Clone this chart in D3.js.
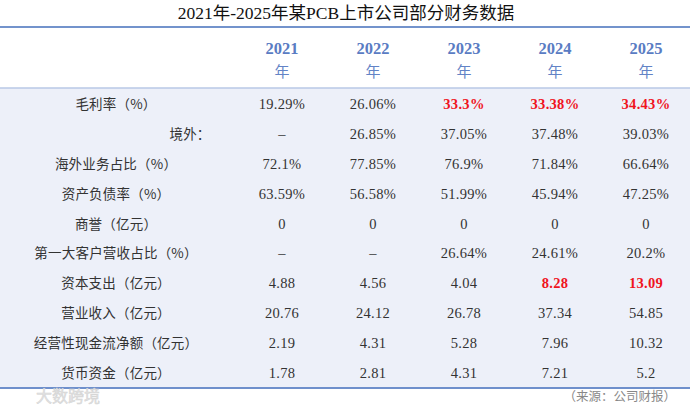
<!DOCTYPE html>
<html><head><meta charset="utf-8">
<script src="https://cdn.jsdelivr.net/npm/d3@7/dist/d3.min.js"></script>
<style>html,body{margin:0;padding:0;background:#fff;}</style>
</head><body>
<svg id="c" width="692" height="407"></svg>
<script>
const title = "2021年-2025年某PCB上市公司部分财务数据";
const years = ["2021", "2022", "2023", "2024", "2025"];
const rowLabels = ["毛利率（%）", "境外：", "海外业务占比（%）", "资产负债率（%）", "商誉（亿元）",
  "第一大客户营收占比（%）", "资本支出（亿元）", "营业收入（亿元）", "经营性现金流净额（亿元）", "货币资金（亿元）"];
const cells = [
  ["19.29%", "26.06%", "33.3%", "33.38%", "34.43%"],
  ["–", "26.85%", "37.05%", "37.48%", "39.03%"],
  ["72.1%", "77.85%", "76.9%", "71.84%", "66.64%"],
  ["63.59%", "56.58%", "51.99%", "45.94%", "47.25%"],
  ["0", "0", "0", "0", "0"],
  ["–", "–", "26.64%", "24.61%", "20.2%"],
  ["4.88", "4.56", "4.04", "8.28", "13.09"],
  ["20.76", "24.12", "26.78", "37.34", "54.85"],
  ["2.19", "4.31", "5.28", "7.96", "10.32"],
  ["1.78", "2.81", "4.31", "7.21", "5.2"]
];
const highlighted = [[0,2],[0,3],[0,4],[6,3],[6,4]];
const source = "（来源：公司财报）";

const svg = d3.select("#c");
const serif = "'Liberation Serif','Noto Sans CJK SC',serif";
const cjk = "'Noto Sans CJK SC','Liberation Serif',sans-serif";

const x = d3.scalePoint().domain(years).range([282, 646]);
const y = d3.scaleBand().domain(d3.range(rowLabels.length)).range([89, 388]);

// title
svg.append("text").attr("x", 346).attr("y", 19).attr("text-anchor", "middle")
  .attr("font-family", serif).attr("font-size", 17.5).attr("fill", "#111").text(title);

// body background
svg.append("rect").attr("x", 0).attr("y", 88).attr("width", 690).attr("height", 300).attr("fill", "#edf0f9");

// lines
svg.append("line").attr("x1", 0).attr("x2", 690).attr("y1", 27).attr("y2", 27).attr("stroke", "#7393cc").attr("stroke-width", 2);
svg.append("line").attr("x1", 0).attr("x2", 690).attr("y1", 88).attr("y2", 88).attr("stroke", "#b9c8e6").attr("stroke-width", 1.5);
svg.append("line").attr("x1", 0).attr("x2", 690).attr("y1", 388).attr("y2", 388).attr("stroke", "#6f90cc").attr("stroke-width", 2);

// header years
const hdr = svg.append("g");
years.forEach(yr => {
  hdr.append("text").attr("x", x(yr)).attr("y", 54).attr("text-anchor", "middle")
    .attr("font-family", serif).attr("font-weight", "bold").attr("font-size", 16.5)
    .attr("fill", "#5a7cc3").text(yr);
  hdr.append("text").attr("x", x(yr)).attr("y", 77).attr("text-anchor", "middle")
    .attr("font-family", cjk).attr("font-size", 15)
    .attr("fill", "#6383c6").text("年");
});

// row labels
svg.append("g").selectAll("text").data(rowLabels).join("text")
  .attr("x", (d, i) => i === 1 ? 190 : 116)
  .attr("y", (d, i) => y(i) + y.bandwidth() / 2 + 5)
  .attr("text-anchor", "middle")
  .attr("font-family", cjk).attr("font-size", 13.5).attr("fill", "#333")
  .attr("letter-spacing", 0.2)
  .text(d => d);

// values
const isHi = (r, c) => highlighted.some(h => h[0] === r && h[1] === c);
const vals = [];
cells.forEach((row, r) => row.forEach((v, c) => vals.push({r, c, v})));
svg.append("g").selectAll("text").data(vals).join("text")
  .attr("x", d => x(years[d.c]))
  .attr("y", d => y(d.r) + y.bandwidth() / 2 + 5)
  .attr("text-anchor", "middle")
  .attr("font-family", serif).attr("font-size", 14.5)
  .attr("letter-spacing", 0.3)
  .attr("font-weight", d => isHi(d.r, d.c) ? "bold" : "normal")
  .attr("fill", d => isHi(d.r, d.c) ? "#f0141e" : "#333")
  .text(d => d.v);

// source
svg.append("text").attr("x", 676).attr("y", 401).attr("text-anchor", "end")
  .attr("font-family", cjk).attr("font-size", 12.5).attr("fill", "#888").text(source);

// watermark
svg.append("text").attr("x", 36).attr("y", 402)
  .attr("font-family", cjk).attr("font-size", 16)
  .attr("fill", "#e2e2e2").attr("stroke", "#d4d4d4").attr("stroke-width", 0.5).text("大数跨境");
</script>
</body></html>
